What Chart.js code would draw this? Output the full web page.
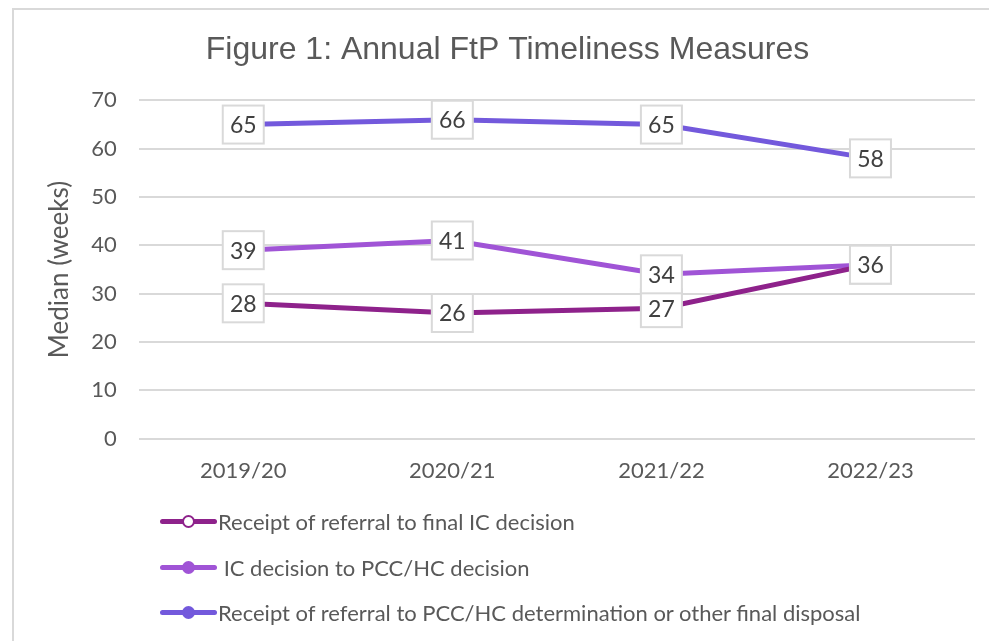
<!DOCTYPE html>
<html>
<head>
<meta charset="utf-8">
<script src="https://cdn.jsdelivr.net/npm/chart.js@4.4.1/dist/chart.umd.min.js"></script>
<style>
  html, body { margin: 0; padding: 0; background: #fff; }
  body { width: 989px; height: 641px; overflow: hidden; position: relative; }
  #frame { position: absolute; left: 12px; top: 8px; width: 1000px; height: 700px;
           border-left: 2px solid #d9d9d9; border-top: 2px solid #d9d9d9; }
  #chart-wrap { position: absolute; left: 14px; top: 10px; width: 989px; height: 493px; }
  #legend { position: absolute; left: 160px; top: 499px; font-family: Lato, sans-serif;
            font-size: 22px; color: #595959; }
  .row { display: flex; align-items: center; height: 45.5px; white-space: pre; }
  .mark { position: relative; width: 57px; height: 5px; border-radius: 3px; margin-right: 1px; }
  .dot { position: absolute; left: 22px; top: -4px; width: 13px; height: 13px; border-radius: 50%;
         box-sizing: border-box; }
</style>
</head>
<body>
<div id="frame"></div>
<div id="chart-wrap"><canvas id="ftp-chart"></canvas></div>
<div id="legend"></div>
<script>
// values
const years = ['2019/20', '2020/21', '2021/22', '2022/23'];
const referralToIC = [28, 26, 27, 36];
const icToPCC = [39, 41, 34, 36];
const referralToFinal = [65, 66, 65, 58];
const seriesNames = [
  'Receipt of referral to final IC decision',
  ' IC decision to PCC/HC decision',
  'Receipt of referral to PCC/HC determination or other final disposal'
];
const seriesColors = ['#8e228b', '#a054d6', '#7359dc'];
const yMax = 70;
const yStep = 10;

// white boxed value labels, like the excel data labels
const boxLabels = {
  id: 'boxLabels',
  afterDatasetsDraw(chart) {
    const c = chart.ctx;
    c.save();
    c.font = '23px Lato';
    c.textAlign = 'center';
    c.textBaseline = 'middle';
    chart.data.datasets.forEach((ds, i) => {
      chart.getDatasetMeta(i).data.forEach((pt, j) => {
        const w = 41, h = 38;
        c.fillStyle = '#fff';
        c.fillRect(pt.x - w / 2, pt.y - h / 2, w, h);
        c.strokeStyle = '#d9d9d9';
        c.lineWidth = 2;
        c.strokeRect(pt.x - w / 2, pt.y - h / 2, w, h);
        c.fillStyle = '#404040';
        c.fillText(String(ds.data[j]), pt.x, pt.y + 1);
      });
    });
    c.restore();
  }
};

const ctx = document.getElementById('ftp-chart').getContext('2d');
const config = {
  type: 'line',
  data: {
    labels: years,
    datasets: [referralToIC, icToPCC, referralToFinal].map((vals, i) => ({
      label: seriesNames[i],
      data: vals,
      borderColor: seriesColors[i],
      backgroundColor: seriesColors[i],
      borderWidth: 5,
      pointRadius: 0,
      tension: 0
    }))
  },
  options: {
    responsive: true,
    maintainAspectRatio: false,
    animation: false,
    layout: { padding: { left: 26, right: 28, top: 0, bottom: 0 } },
    plugins: {
      legend: { display: false },
      tooltip: { enabled: false },
      title: {
        display: true,
        text: 'Figure 1: Annual FtP Timeliness Measures',
        color: '#595959',
        font: { family: 'Liberation Sans', size: 32, weight: 'normal' },
        padding: { top: 21, bottom: 31 }
      }
    },
    scales: {
      x: {
        offset: true,
        grid: { display: false, drawTicks: false },
        border: { display: false },
        ticks: { color: '#595959', font: { family: 'Lato', size: 22 }, padding: 19 }
      },
      y: {
        min: 0,
        max: yMax,
        grid: { color: '#d9d9d9', lineWidth: 2, drawTicks: false },
        border: { display: false },
        ticks: { stepSize: yStep, color: '#595959', font: { family: 'Lato', size: 22 }, padding: 22 },
        title: {
          display: true,
          text: 'Median (weeks)',
          color: '#595959',
          font: { family: 'Lato', size: 26 },
          padding: { top: 4, bottom: -6 }
        }
      }
    }
  },
  plugins: [boxLabels]
};
const myChart = new Chart(ctx, config);

// legend stacked under the chart
const legend = document.getElementById('legend');
myChart.data.datasets.forEach((ds, i) => {
  const row = document.createElement('div');
  row.className = 'row';
  const mark = document.createElement('span');
  mark.className = 'mark';
  mark.style.background = ds.borderColor;
  const dot = document.createElement('span');
  dot.className = 'dot';
  dot.style.background = i === 0 ? '#fff' : ds.borderColor;
  dot.style.border = '2.5px solid ' + ds.borderColor;
  mark.appendChild(dot);
  row.appendChild(mark);
  row.appendChild(document.createTextNode(ds.label));
  legend.appendChild(row);
});
</script>
</body>
</html>
